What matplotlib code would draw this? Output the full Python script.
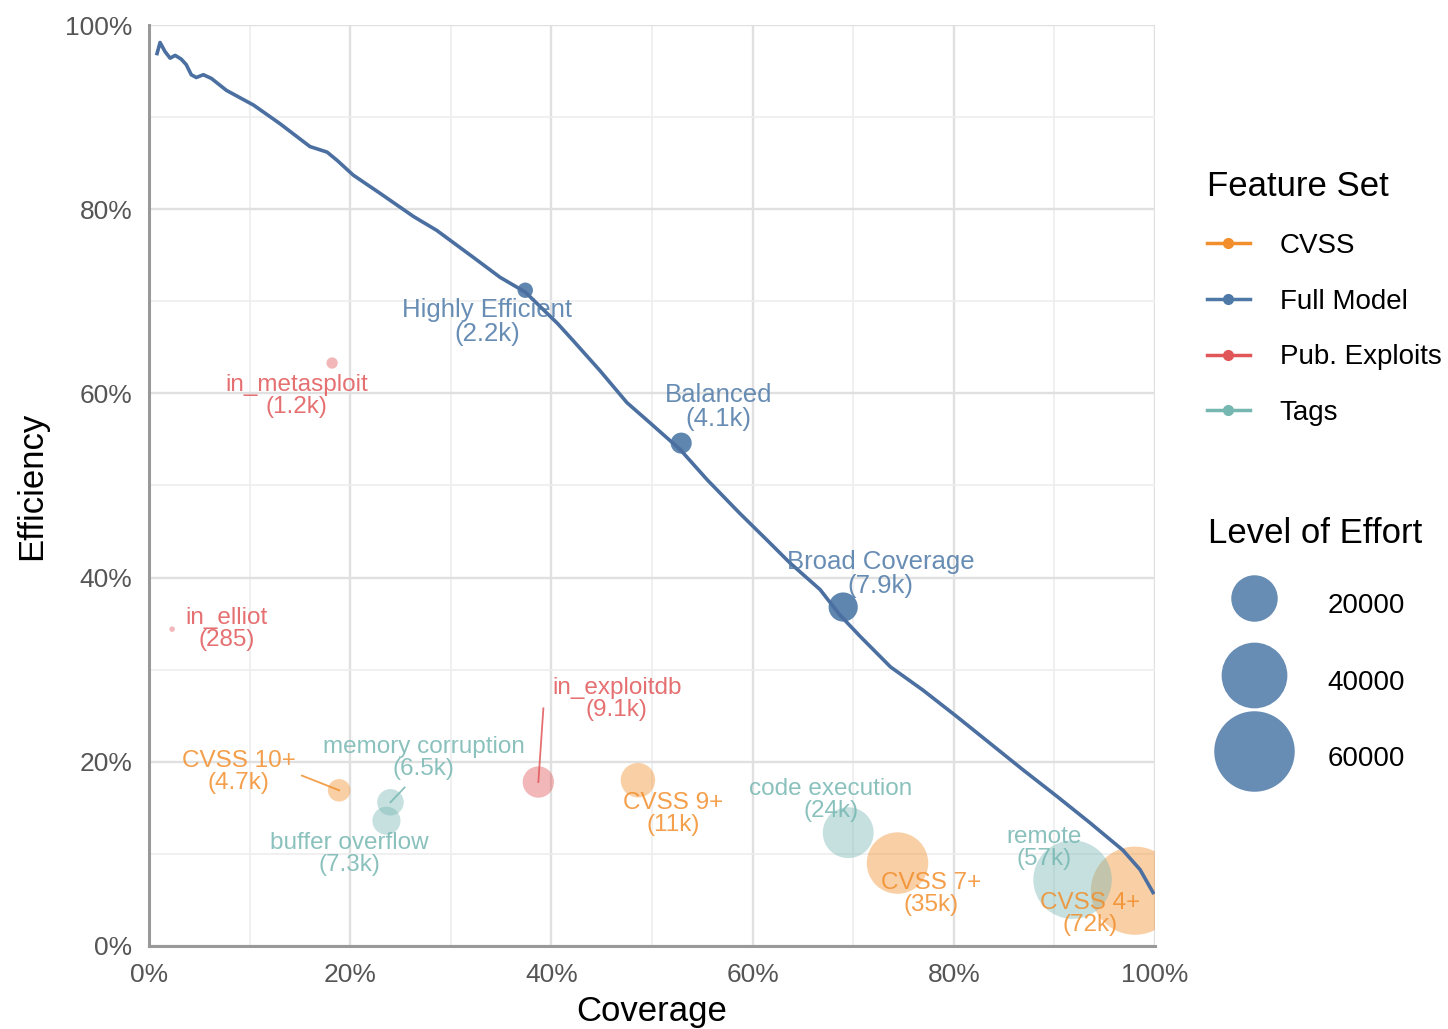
import matplotlib
matplotlib.use("Agg")
import matplotlib.pyplot as plt
from matplotlib.lines import Line2D
from matplotlib.ticker import MultipleLocator, FuncFormatter

plt.rcParams['font.family'] = ['Liberation Sans', 'DejaVu Sans']

# Full Model trade-off curve: coverage (%) vs efficiency (%)
curve_cov = [0.8, 1.1, 1.6, 2.1, 2.6, 3.2, 3.7, 4.2, 4.7, 5.4, 6.2, 7.7, 10.4, 13.0,
             16.0, 17.7, 18.7, 20.3, 23.0, 26.3, 28.6, 32.2, 34.9, 37.4, 40.6, 42.1,
             44.8, 47.5, 49.8, 52.8, 55.5, 58.7, 61.4, 63.7, 66.7, 68.7, 70.7, 73.7,
             76.9, 80.3, 83.6, 86.9, 90.3, 93.5, 96.8, 98.5, 99.8]
curve_eff = [96.9, 98.1, 97.1, 96.4, 96.7, 96.3, 95.7, 94.6, 94.3, 94.6, 94.2, 92.9,
             91.3, 89.3, 86.8, 86.2, 85.3, 83.7, 81.7, 79.2, 77.7, 74.8, 72.6, 71.0,
             67.6, 65.8, 62.5, 59.0, 56.8, 53.9, 50.6, 47.0, 44.1, 41.6, 38.7, 35.9,
             33.6, 30.3, 27.8, 24.9, 22.0, 19.1, 16.2, 13.4, 10.4, 8.3, 5.8]

# individual strategies
names = ['Highly Efficient', 'Balanced', 'Broad Coverage',
         'in_metasploit', 'in_elliot', 'in_exploitdb',
         'CVSS 10+', 'CVSS 9+', 'CVSS 7+', 'CVSS 4+',
         'memory corruption', 'buffer overflow', 'code execution', 'remote']
feature_set = ['Full Model', 'Full Model', 'Full Model',
               'Pub. Exploits', 'Pub. Exploits', 'Pub. Exploits',
               'CVSS', 'CVSS', 'CVSS', 'CVSS',
               'Tags', 'Tags', 'Tags', 'Tags']
coverage = [37.4, 52.9, 69.0, 18.2, 2.3, 38.7, 18.9, 48.6, 74.4, 98.0, 24.0, 23.6, 69.5, 91.8]
efficiency = [71.2, 54.6, 36.8, 63.3, 34.4, 17.8, 16.9, 18.0, 9.0, 6.0, 15.6, 13.6, 12.3, 7.2]
effort = [2200, 4100, 7900, 1200, 285, 9100, 4700, 11000, 35000, 72000, 6500, 7300, 24000, 57000]
effort_text = ['2.2k', '4.1k', '7.9k', '1.2k', '285', '9.1k', '4.7k', '11k', '35k', '72k',
               '6.5k', '7.3k', '24k', '57k']

sets = ['CVSS', 'Full Model', 'Pub. Exploits', 'Tags']
set_colors = {'CVSS': '#F28E2B', 'Full Model': '#4E79A7',
              'Pub. Exploits': '#E15759', 'Tags': '#76B7B2'}
size_breaks = [20000, 40000, 60000]

# label placement (layout only)
label_xy = [(33.6, 67.7), (56.6, 58.5), (72.7, 40.4), (14.7, 59.7), (7.75, 34.4),
            (46.5, 26.8), (8.9, 18.9), (52.1, 14.3), (77.7, 5.6), (93.5, 3.5),
            (27.3, 20.4), (19.9, 10.0), (67.8, 15.9), (89.0, 10.6)]
segment_from = {'in_exploitdb': (39.2, 25.8), 'CVSS 10+': (15.2, 18.5),
                'memory corruption': (25.4, 17.2)}

SCALE = 0.056  # marker area (pt^2) per unit of effort

fig = plt.figure(figsize=(14.48, 10.29), dpi=100)
ax = fig.add_axes([0.1029, 0.0807, 0.6948, 0.8950])

ax.set_xlim(0, 100)
ax.set_ylim(0, 100)
ax.xaxis.set_major_locator(MultipleLocator(20))
ax.yaxis.set_major_locator(MultipleLocator(20))
ax.xaxis.set_minor_locator(MultipleLocator(10))
ax.yaxis.set_minor_locator(MultipleLocator(10))
pct = FuncFormatter(lambda v, p: f"{v:.0f}%")
ax.xaxis.set_major_formatter(pct)
ax.yaxis.set_major_formatter(pct)
ax.grid(which='major', color='#e0e0e0', lw=1.7)
ax.grid(which='minor', color='#eeeeee', lw=1.2)
ax.set_axisbelow(True)
ax.tick_params(which='both', length=0, labelsize=19, labelcolor='#555555', pad=12)
for s in ['top', 'right']:
    ax.spines[s].set_visible(False)
for s in ['left', 'bottom']:
    ax.spines[s].set_color('#999999')
    ax.spines[s].set_linewidth(2.2)

for i, n in enumerate(names):
    c = set_colors[feature_set[i]]
    a = 0.9 if feature_set[i] == 'Full Model' else 0.42
    ax.scatter(coverage[i], efficiency[i], s=effort[i] * SCALE, color=c, alpha=a,
               edgecolors='none', zorder=3)

ax.plot(curve_cov, curve_eff, color='#4A6FA0', lw=2.6, zorder=5, solid_joinstyle='round')

for i, n in enumerate(names):
    c = set_colors[feature_set[i]]
    fs = 18.5 if feature_set[i] == 'Full Model' else 17.5
    lx, ly = label_xy[i]
    ax.text(lx, ly, f"{n}\n({effort_text[i]})", color=c, alpha=0.85, fontsize=fs,
            ha='center', va='center', linespacing=1.0, zorder=6)
    if n in segment_from:
        sx, sy = segment_from[n]
        ax.plot([sx, coverage[i]], [sy, efficiency[i]], color=c, alpha=0.85, lw=1.3, zorder=4)

ax.set_xlabel('Coverage', fontsize=25, labelpad=6)
ax.set_ylabel('Efficiency', fontsize=25, labelpad=12)

h1 = [Line2D([], [], color=set_colors[k], lw=2.5, marker='o', markersize=7) for k in sets]
leg1 = fig.legend(h1, sets, loc='upper left', bbox_to_anchor=(0.816, 0.859),
                  frameon=False, fontsize=20, title='Feature Set', title_fontsize=25,
                  alignment='left', labelspacing=1.07, handlelength=1.55, handletextpad=1.08)

h2 = [Line2D([], [], ls='none', marker='o', markersize=(b * SCALE) ** 0.5,
             color='#4E79A7', alpha=0.85, markeredgewidth=0) for b in size_breaks]
leg2 = fig.legend(h2, [str(b) for b in size_breaks], loc='upper left',
                  bbox_to_anchor=(0.817, 0.522), frameon=False, fontsize=20,
                  title='Level of Effort', title_fontsize=25, alignment='left',
                  labelspacing=1.2, handleheight=2.0, handlelength=3.3, handletextpad=1.0)

fig.savefig('out.png', dpi=100)
